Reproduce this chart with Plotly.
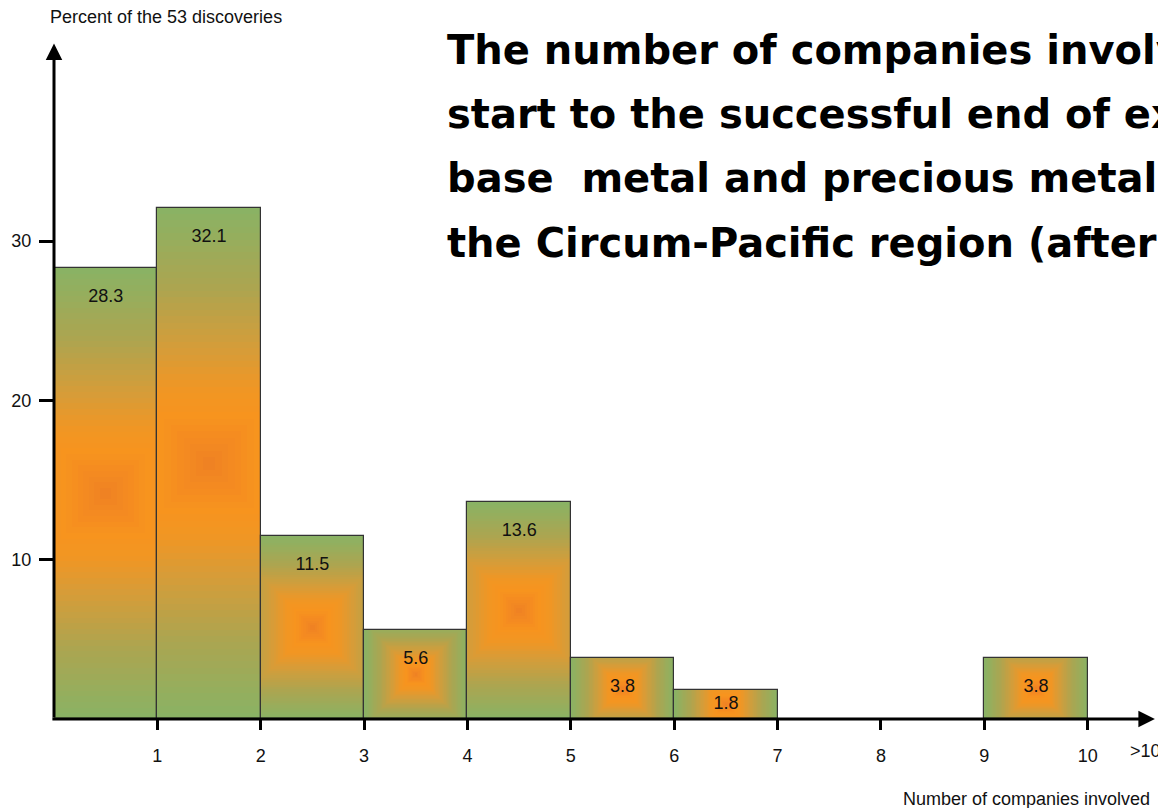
import plotly.graph_objects as go

# ---- data ----
bin_centers = [0.5, 1.5, 2.5, 3.5, 4.5, 5.5, 6.5, 9.5]
percent_values = [28.3, 32.1, 11.5, 5.6, 13.6, 3.8, 1.8, 3.8]
x_tick_values = [1, 2, 3, 4, 5, 6, 7, 8, 9, 10]
x_tick_labels = ["1", "2", "3", "4", "5", "6", "7", "8", "9", "10"]
y_tick_values = [10, 20, 30]
title_lines = [
    "The number of companies involved from the",
    "start to the successful end of exploration",
    "base  metal and precious metal deposits in",
    "the Circum-Pacific region (after",
]
y_axis_title = "Percent of the 53 discoveries"
x_axis_title = "Number of companies involved"

W, H = 1158, 808
ML, MB = 53.5, 89
X_MAX = 10.68
Y_MAX = 45.13
PX_PER_X = (W - ML) / X_MAX
PX_PER_Y = (H - MB) / Y_MAX

# ---- gradient (square path gradient from the bar centre) ----
stops = [
    (0.00, (238, 128, 36)),
    (0.12, (245, 140, 32)),
    (0.20, (247, 148, 30)),
    (0.30, (240, 150, 36)),
    (0.45, (215, 156, 56)),
    (0.70, (172, 165, 80)),
    (1.00, (138, 178, 100)),
]


def color_at(f):
    for (a, ca), (b, cb) in zip(stops[:-1], stops[1:]):
        if a <= f <= b:
            t = (f - a) / (b - a) if b > a else 0
            c = [round(ca[i] + (cb[i] - ca[i]) * t) for i in range(3)]
            return f"rgb({c[0]},{c[1]},{c[2]})"
    c = stops[-1][1]
    return f"rgb({c[0]},{c[1]},{c[2]})"


fig = go.Figure()
N = 40
bar_w_px = 1.0 * PX_PER_X
for k in range(N):
    f = 1 - k / N
    widths, heights, bases = [], [], []
    for v in percent_values:
        h_px = v * PX_PER_Y
        s = max(bar_w_px, h_px) / 2  # half side of the gradient square
        half_w = min(f * s, bar_w_px / 2) / PX_PER_X
        half_h = min(f * s, h_px / 2) / PX_PER_Y
        widths.append(2 * half_w)
        heights.append(2 * half_h)
        bases.append(v / 2 - half_h)
    fig.add_trace(go.Bar(
        x=bin_centers, y=heights, base=bases, width=widths,
        marker=dict(color=color_at(f), line=dict(width=0)),
        hoverinfo="skip", showlegend=False,
    ))

# outline
fig.add_trace(go.Bar(
    x=bin_centers, y=percent_values, width=1,
    marker=dict(color="rgba(0,0,0,0)", line=dict(color="#333333", width=1.2)),
    showlegend=False,
))

SMALL = dict(family="Liberation Sans, Arial", size=18, color="#111111")

# value labels
label_y = [max(v - 1.85, v / 2) for v in percent_values]
fig.add_trace(go.Scatter(
    x=bin_centers, y=label_y, mode="text",
    text=[f"{v:.1f}" for v in percent_values],
    textfont=SMALL, showlegend=False, hoverinfo="skip",
))

# axis lines with arrowheads
fig.add_annotation(x=0, y=42.4, ax=0, ay=0, xref="x", yref="y", axref="x", ayref="y",
                   text="", showarrow=True, arrowhead=2, arrowsize=1.1, arrowwidth=3,
                   arrowcolor="black", standoff=0, startstandoff=0)
fig.add_annotation(x=10.65, y=0, ax=-0.03, ay=0, xref="x", yref="y", axref="x", ayref="y",
                   text="", showarrow=True, arrowhead=2, arrowsize=1.1, arrowwidth=3,
                   arrowcolor="black", standoff=0, startstandoff=0)


def px_to_paper(px, py):
    return (px - ML) / (W - ML), (H - MB - py) / (H - MB)


# ">10" category label
_, gy = px_to_paper(0, 751)
fig.add_annotation(x=10.39, y=gy, xref="x", yref="paper", text=">10", showarrow=False,
                   xanchor="left", yanchor="middle", font=SMALL)

# axis titles
ax_, ay_ = px_to_paper(47, 17)
fig.add_annotation(x=ax_, y=ay_, xref="paper", yref="paper", text=y_axis_title,
                   showarrow=False, xanchor="left", yanchor="middle", font=SMALL)
ax_, ay_ = px_to_paper(1152, 799)
fig.add_annotation(x=ax_, y=ay_, xref="paper", yref="paper", text=x_axis_title,
                   showarrow=False, xanchor="right", yanchor="middle", font=SMALL)

# title lines
centers = [50, 114, 178, 243]
for line, c in zip(title_lines, centers):
    px, py = px_to_paper(445, c)
    fig.add_annotation(x=px, y=py, xref="paper", yref="paper", text=line, showarrow=False,
                       xanchor="left", yanchor="middle",
                       font=dict(family="DejaVu Sans", size=40, color="black", weight="bold"))

fig.update_layout(
    width=W, height=H,
    margin=dict(l=ML, r=0, t=0, b=MB, pad=0),
    barmode="overlay", bargap=0,
    plot_bgcolor="white", paper_bgcolor="white",
    showlegend=False,
    xaxis=dict(range=[0, X_MAX], tickvals=x_tick_values, ticktext=x_tick_labels,
               ticks="outside", ticklen=10, tickwidth=3, tickcolor="black",
               showgrid=False, zeroline=False, showline=False, ticklabelstandoff=10,
               tickfont=SMALL),
    yaxis=dict(range=[0, Y_MAX], tickvals=y_tick_values,
               ticks="outside", ticklen=14, tickwidth=3, tickcolor="black",
               showgrid=False, zeroline=False, showline=False, ticklabelstandoff=4,
               tickfont=SMALL),
)

fig.write_html(
    "out.html",
    config={"displayModeBar": False},
    post_script="document.body.style.margin='0px';document.body.style.overflow='hidden';",
)
